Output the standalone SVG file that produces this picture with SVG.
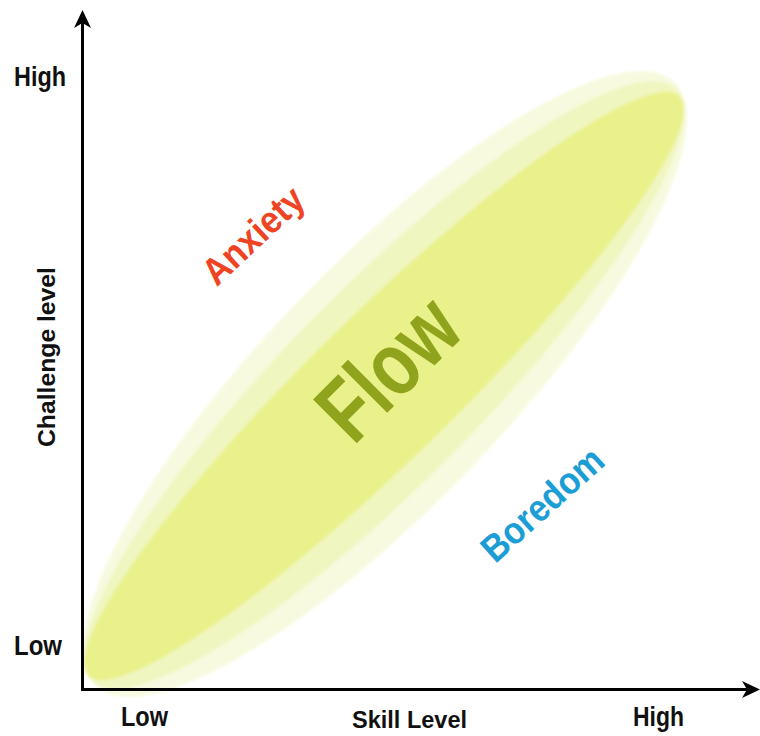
<svg xmlns="http://www.w3.org/2000/svg" width="760" height="736" viewBox="0 0 760 736">
  <style>
    .lbl { font-family: "Liberation Sans", Arial, sans-serif; font-weight: bold; fill: #111; }
    .axis { stroke: #000; stroke-width: 3; fill: none; }
    .zone { font-family: "Liberation Sans", Arial, sans-serif; font-weight: bold; }
  </style>
  <defs>
    <filter id="soft" x="-10%" y="-10%" width="120%" height="120%">
      <feGaussianBlur stdDeviation="1.5"/>
    </filter>
  </defs>
  <rect width="760" height="736" fill="#ffffff"/>

  <!-- flow channel: layered diagonal ellipses -->
  <g id="flow-band" filter="url(#soft)">
    <ellipse cx="385" cy="384" rx="418" ry="120" fill="#f7fade" transform="rotate(-46.2 385 384)"/>
    <ellipse cx="384" cy="385" rx="416" ry="97" fill="#f0f6c0" transform="rotate(-45.4 384 385)"/>
    <ellipse cx="384" cy="386" rx="414" ry="72" fill="#e9f18b" transform="rotate(-44.4 384 386)"/>
  </g>

  <!-- axes -->
  <g id="connectors">
    <line class="axis" x1="82.5" y1="689.5" x2="82.5" y2="20"/>
    <path d="M82.5 10 L91 28 L82.5 23 L74 28 Z" fill="#000"/>
    <line class="axis" x1="81" y1="689.5" x2="750" y2="689.5"/>
    <path d="M760 689.5 L742 698 L747 689.5 L742 681 Z" fill="#000"/>
  </g>

  <!-- axis labels -->
  <g id="y-high"><text class="lbl" x="14" y="86" font-size="28" textLength="52" lengthAdjust="spacingAndGlyphs">High</text></g>
  <g id="y-low"><text class="lbl" x="14" y="655" font-size="28" textLength="48" lengthAdjust="spacingAndGlyphs">Low</text></g>
  <g id="x-low"><text class="lbl" x="121" y="726" font-size="28" textLength="47" lengthAdjust="spacingAndGlyphs">Low</text></g>
  <g id="x-high"><text class="lbl" x="633" y="726" font-size="28" textLength="51" lengthAdjust="spacingAndGlyphs">High</text></g>
  <g id="x-title"><text class="lbl" x="352" y="728" font-size="24" textLength="115" lengthAdjust="spacingAndGlyphs">Skill Level</text></g>
  <g id="y-title"><text class="lbl" transform="translate(55 357) rotate(-90)" text-anchor="middle" font-size="24" textLength="180" lengthAdjust="spacingAndGlyphs">Challenge level</text></g>

  <!-- zone labels -->
  <g id="flow"><text class="zone" transform="translate(410 390) rotate(-45)" text-anchor="middle" font-size="90" fill="#8fa41c" textLength="160" lengthAdjust="spacingAndGlyphs">Flow</text></g>
  <g id="anxiety"><text class="zone" transform="translate(262 245) rotate(-43)" text-anchor="middle" font-size="38" fill="#ef4423" textLength="124" lengthAdjust="spacingAndGlyphs">Anxiety</text></g>
  <g id="boredom"><text class="zone" transform="translate(551 514) rotate(-42)" text-anchor="middle" font-size="38" fill="#1b9dd5" textLength="150" lengthAdjust="spacingAndGlyphs">Boredom</text></g>
</svg>
